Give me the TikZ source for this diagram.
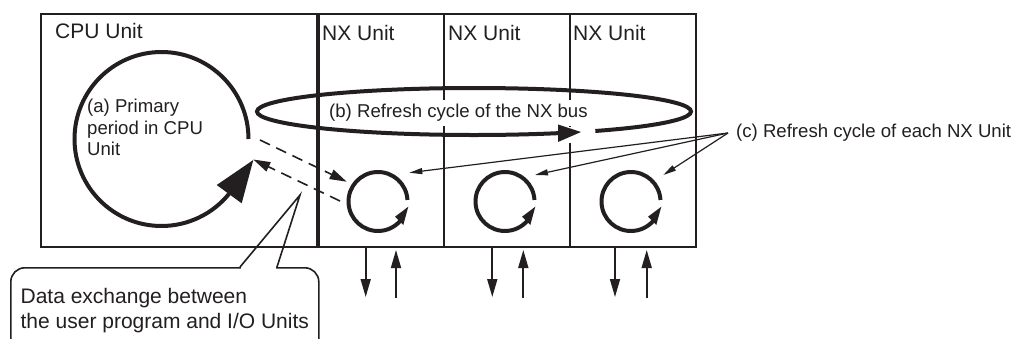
\documentclass[tikz,border=0pt]{standalone}
\usepackage{fontspec}
\setmainfont{Liberation Sans}
\usetikzlibrary{arrows.meta}
\definecolor{ink}{HTML}{231F20}
\begin{document}
\begin{tikzpicture}[x=1pt,y=-1pt,
  every node/.style={text=ink},
  unitbox/.style={draw=ink, line width=1.8pt, minimum height=233pt, inner sep=0pt, anchor=north west},
  bigtxt/.style={font=\fontsize{21}{25}\selectfont, inner sep=0pt, anchor=west},
  smalltxt/.style={font=\fontsize{18.6}{21.5}\selectfont, inner sep=0pt},
  loopline/.style={draw=ink, line width=4pt},
  thinarrow/.style={draw=ink, line width=1.2pt, -{Triangle[length=13pt,width=6pt]}},
  ioarrow/.style={draw=ink, line width=1.7pt, -{Triangle[length=18pt,width=10pt]}},
  dasharrow/.style={draw=ink, line width=1.6pt, dash pattern=on 11pt off 7pt, -{Triangle[length=17pt,width=10pt]}},
]
\useasboundingbox (0,0) rectangle (1013,338);
\fill[white] (0,0) rectangle (1013,338);

% unit boxes
\node[unitbox, minimum width=276pt] (cpu) at (40,13) {};
\node[unitbox, minimum width=127pt] (nx1) at (316,13) {};
\node[unitbox, minimum width=126pt] (nx2) at (443,13) {};
\node[unitbox, minimum width=126pt] (nx3) at (569,13) {};
\draw[ink, line width=3.5pt] (cpu.north east) -- (cpu.south east);

% titles
\node[bigtxt] (cpulbl) at (55,31) {CPU Unit};
\node[bigtxt] (nxlbl1) at (322,33) {NX Unit};
\node[bigtxt] (nxlbl2) at (448,33) {NX Unit};
\node[bigtxt] (nxlbl3) at (573,33) {NX Unit};

% (b) label with white ground, hides divider lines
\node[smalltxt, fill=white, inner xsep=1pt, inner ysep=4pt, anchor=west] (btxt) at (328,113) {(b) Refresh cycle of the NX bus};
\fill[white] (556,127) rectangle (598,143);

% NX bus refresh ellipse
\coordinate (ellc) at (474,111.5);
\draw[loopline] (ellc) ++(56:217 and 23.5) arc[start angle=56, end angle=-293, x radius=217, y radius=23.5];
\fill[ink] (581,132) -- (558,124.5) -- (558,142) -- cycle;

% CPU primary period circle
\coordinate (cpuc) at (161.5,139);
\draw[loopline] (cpuc) ++(0:87) arc[start angle=0, end angle=-321, radius=87];
\fill[ink] (253.3,160) -- (216.7,185) -- (241.7,203.3) -- cycle;
\node[smalltxt, align=left, anchor=west] (atxt) at (87,127.5) {(a) Primary\\period in CPU\\Unit};

% NX unit refresh circles
\foreach \cx/\nm in {378/c1, 505/c2, 631/c3}{
  \coordinate (\nm) at (\cx,201.5);
  \draw[loopline] (\nm) ++(-3:29.5) arc[start angle=-3, end angle=-320, radius=29.5];
  \fill[ink] (\cx+30.3,206.7) -- (\cx+17,216.7) -- (\cx+25.3,225) -- cycle;
}

% dashed data exchange arrows
\coordinate (d1s) at (260,140);
\coordinate (d1e) at (346.7,181.7);
\coordinate (d2s) at (340,201);
\coordinate (d2e) at (253.3,159.5);
\draw[dasharrow] (d1s) -- (d1e);
\draw[dasharrow] (d2s) -- (d2e);

% (c) label and pointers
\node[smalltxt, anchor=west] (ctxt) at (736,133) {(c) Refresh cycle of each NX Unit};
\coordinate (cpt) at (728,133);
\coordinate (ct1) at (409.3,172.7);
\coordinate (ct2) at (535,175);
\coordinate (ct3) at (663.3,175);
\draw[thinarrow] (cpt) -- (ct1);
\draw[thinarrow] (cpt) -- (ct2);
\draw[thinarrow] (cpt) -- (ct3);

% I/O arrows
\foreach \dx/\ux/\nm in {365.7/396/a, 492.3/523.3/b, 615/646.7/c}{
  \coordinate (dn\nm s) at (\dx,248.3);
  \coordinate (dn\nm e) at (\dx,297);
  \coordinate (up\nm s) at (\ux,298.3);
  \coordinate (up\nm e) at (\ux,250);
  \draw[ioarrow] (dn\nm s) -- (dn\nm e);
  \draw[ioarrow] (up\nm s) -- (up\nm e);
}

% callout
\node[draw=ink, line width=1.6pt, rounded corners=14pt, minimum width=308pt, minimum height=86pt,
  anchor=north west, inner sep=0pt, align=left,
  font=\fontsize{21}{25}\selectfont] (callout) at (10,267) {Data exchange between\\the user program and I/O Units};
\coordinate (ptl) at (240,267);
\coordinate (ptip) at (300,195);
\coordinate (ptr) at (277,267);
\fill[white] (241,265) rectangle (276,269);
\draw[ink, line width=1.6pt] (ptl) -- (ptip) -- (ptr);
\end{tikzpicture}
\end{document}
